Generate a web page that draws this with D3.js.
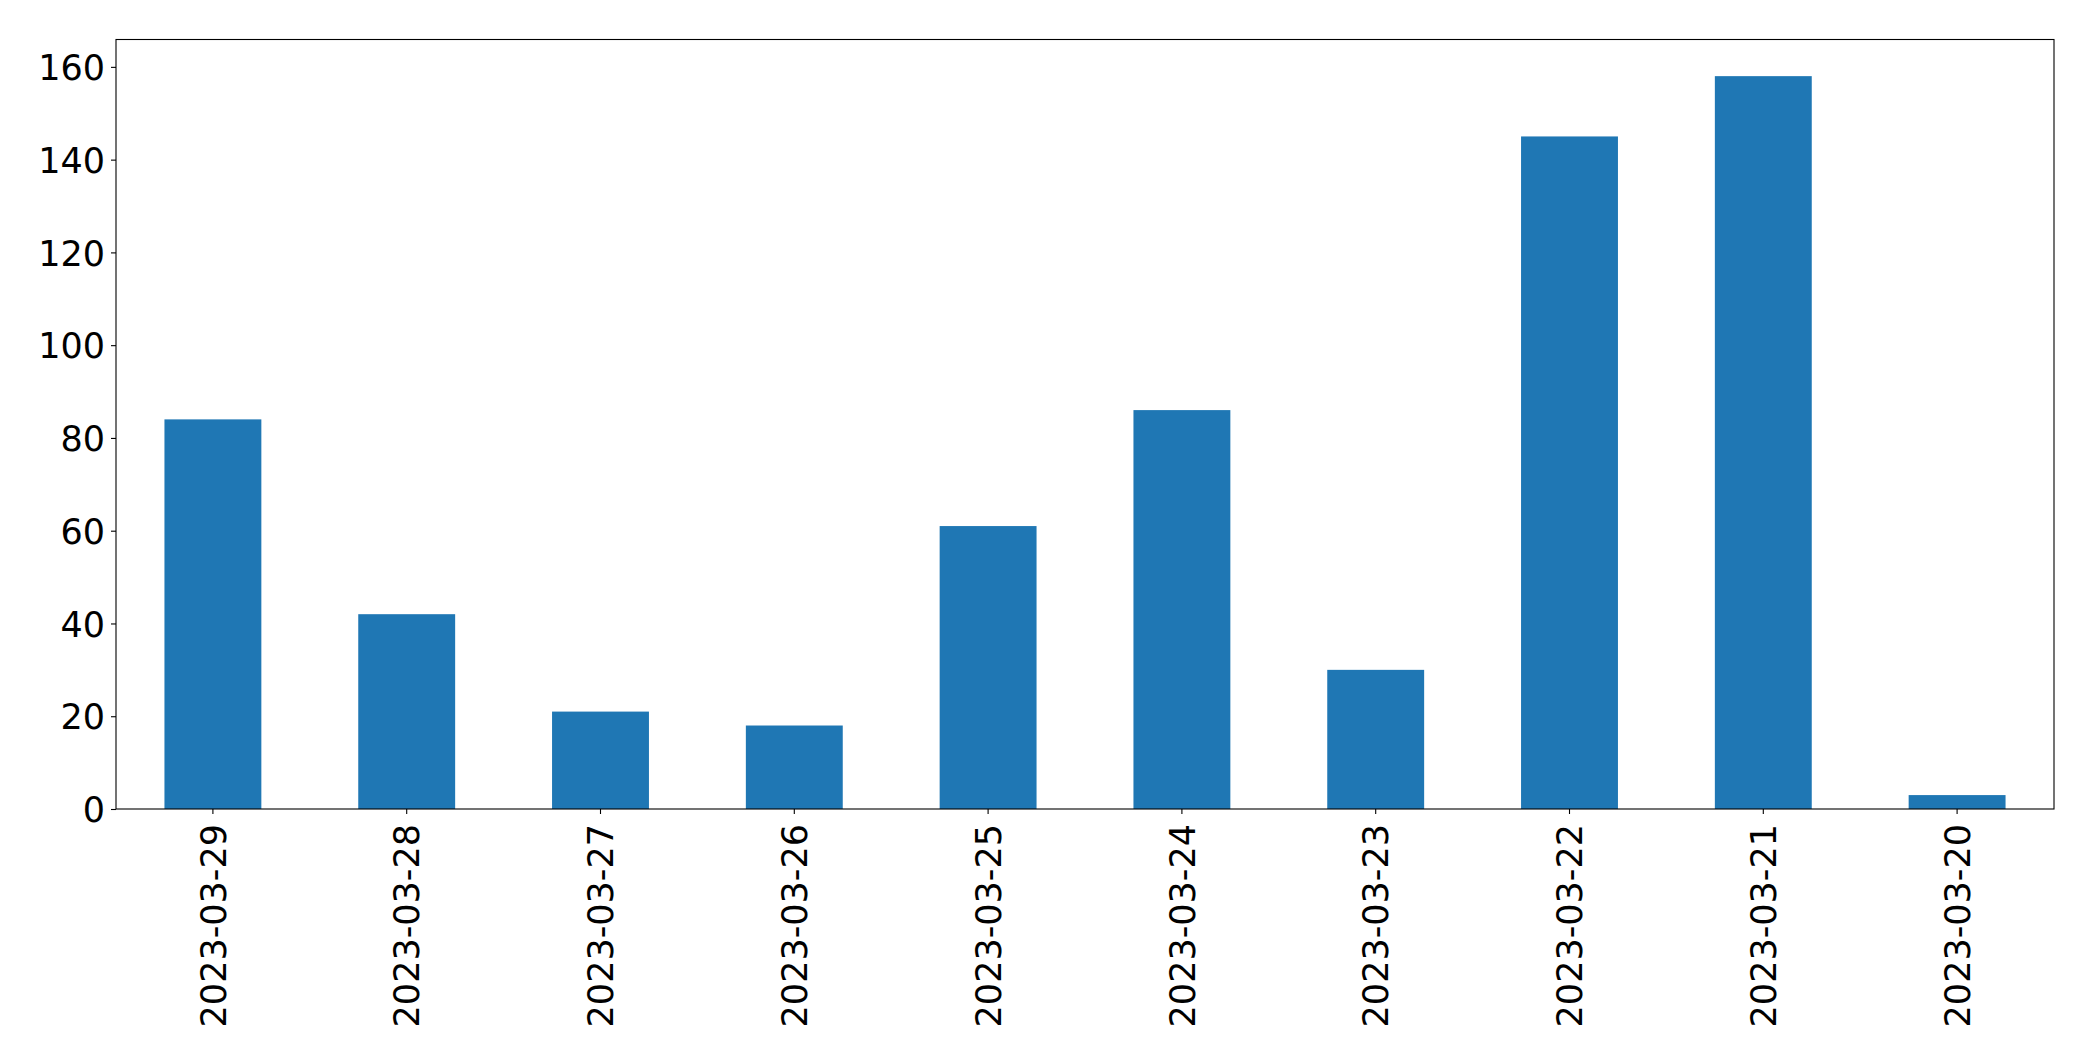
<!DOCTYPE html>
<html>
<head>
<meta charset="utf-8">
<script src="https://cdn.jsdelivr.net/npm/d3@7"></script>
<style>
  html, body { margin: 0; padding: 0; background: #fff; }
  svg { display: block; }
  text { font-family: "DejaVu Sans", sans-serif; }
</style>
</head>
<body>
<svg id="chart" width="2093" height="1061"></svg>
<script>
// --- data ---
var dates  = ['2023-03-29', '2023-03-28', '2023-03-27', '2023-03-26', '2023-03-25',
              '2023-03-24', '2023-03-23', '2023-03-22', '2023-03-21', '2023-03-20'];
var counts = [84, 42, 21, 18, 61, 86, 30, 145, 158, 3];
var yTicks = [0, 20, 40, 60, 80, 100, 120, 140, 160];

// --- layout ---
var W = 2093, H = 1061;
var margin = { left: 116, right: 2093 - 2054, top: 39.5, bottom: 1061 - 809 };
var plotW = W - margin.left - margin.right;
var plotH = H - margin.top - margin.bottom;
var fontPx = 35;

var svg = d3.select('#chart');
var g = svg.append('g').attr('transform', 'translate(' + margin.left + ',' + margin.top + ')');

// x: one slot per date, bar takes half of each slot (like pandas bar plot)
var x = d3.scaleBand().domain(dates).range([0, plotW]).paddingInner(0.5).paddingOuter(0.25);
var y = d3.scaleLinear().domain([0, d3.max(counts) * 1.05]).range([plotH, 0]);

// bars
g.selectAll('rect.bar')
  .data(dates)
  .enter()
  .append('rect')
  .attr('class', 'bar')
  .attr('x', function(d) { return x(d); })
  .attr('width', x.bandwidth())
  .attr('y', function(d, i) { return y(counts[i]); })
  .attr('height', function(d, i) { return plotH - y(counts[i]); })
  .attr('fill', '#1f77b4');

// y axis
var yAxis = g.append('g')
  .call(d3.axisLeft(y).tickValues(yTicks).tickSize(5).tickPadding(6).tickFormat(d3.format('d')));
yAxis.select('.domain').remove();
yAxis.selectAll('line').attr('stroke', '#000').attr('stroke-width', 1.1);
yAxis.selectAll('text')
  .attr('font-size', fontPx)
  .attr('fill', '#000')
  .attr('dy', '0.36em');

// x axis with rotated labels
var xAxis = g.append('g')
  .attr('transform', 'translate(0,' + plotH + ')')
  .call(d3.axisBottom(x).tickSize(5).tickPadding(0));
xAxis.select('.domain').remove();
xAxis.selectAll('line').attr('stroke', '#000').attr('stroke-width', 1.1);
xAxis.selectAll('text')
  .attr('font-size', fontPx)
  .attr('fill', '#000')
  .attr('text-anchor', 'end')
  .attr('transform', 'translate(0,15) rotate(-90)')
  .attr('x', 0)
  .attr('y', 0)
  .attr('dy', '0.36em');

// frame around the plot
g.append('rect')
  .attr('x', 0).attr('y', 0)
  .attr('width', plotW).attr('height', plotH)
  .attr('fill', 'none')
  .attr('stroke', '#000')
  .attr('stroke-width', 1.1);
</script>
</body>
</html>
